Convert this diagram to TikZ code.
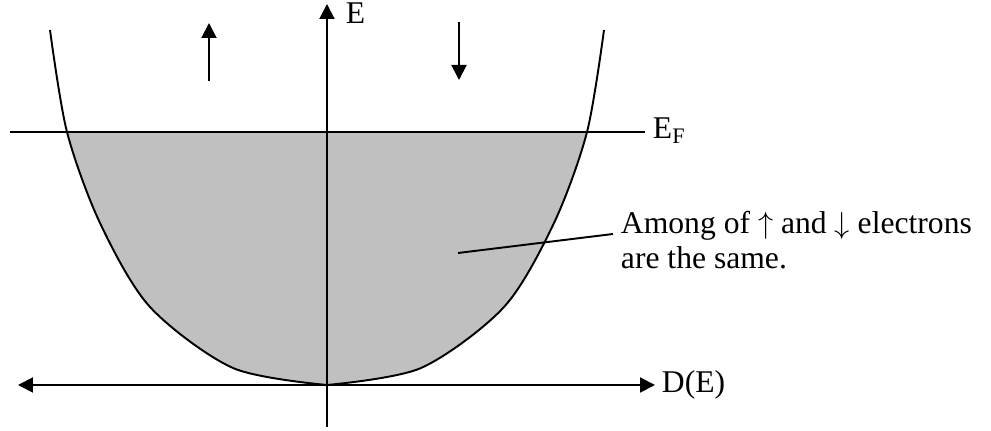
\documentclass[tikz,border=0pt]{standalone}
\usepackage{fontspec}
\setmainfont{Liberation Serif}
\usetikzlibrary{arrows.meta,positioning}
\definecolor{fillgray}{HTML}{C0C0C0}

\begin{document}
\begin{tikzpicture}[x=0.02cm, y=-0.02cm, line width=1.1pt,
    >={Triangle[length=0.3cm, width=0.3cm]},
    font=\fontsize{18}{20}\selectfont]
  \useasboundingbox (0,0) rectangle (991,431);
  % filled states below E_F
  \begin{scope}
    \clip (0,132) rectangle (991,431);
    \fill[fillgray] plot[smooth] coordinates {(50,30) (67,132) (100,223)
        (150,307) (233,368) (327,385)}
      -- plot[smooth] coordinates {(327,385) (421,368) (504,307) (554,223)
        (587,132) (604,30)} -- cycle;
  \end{scope}
  % the two bands
  \draw plot[smooth] coordinates {(50,30) (67,132) (100,223)
      (150,307) (233,368) (327,385)};
  \draw plot[smooth] coordinates {(327,385) (421,368) (504,307) (554,223)
      (587,132) (604,30)};
  % axes and Fermi level
  \coordinate (ebot) at (327,427);
  \coordinate (etop) at (327,4);
  \coordinate (dleft) at (18,385);
  \coordinate (dright) at (655,385);
  \coordinate (fleft) at (10,132);
  \coordinate (fright) at (645,132);
  \draw[->] (ebot) -- (etop);
  \draw[<->] (dleft) -- (dright);
  \draw (fleft) -- (fright);
  \node[anchor=base west, inner sep=0] (elab) at (345,24) {E};
  \node[anchor=base west, inner sep=0] (dlab) at (661,393) {D(E)};
  \node[anchor=base west, inner sep=0] (flab) at (652,139) {E\textsubscript{F}};
  % spin arrows
  \draw[->] (209,81) -- (209,23);
  \draw[->] (459,22) -- (459,80);
  % note
  \node[anchor=west, align=left, inner sep=0.14cm] (note) at (613,240)
    {Among of $\uparrow$ and $\downarrow$ electrons\\are the same.};
  \coordinate (notetail) at (458,253);
  \draw (notetail) -- ([yshift=0.12cm]note.west);
\end{tikzpicture}
\end{document}
